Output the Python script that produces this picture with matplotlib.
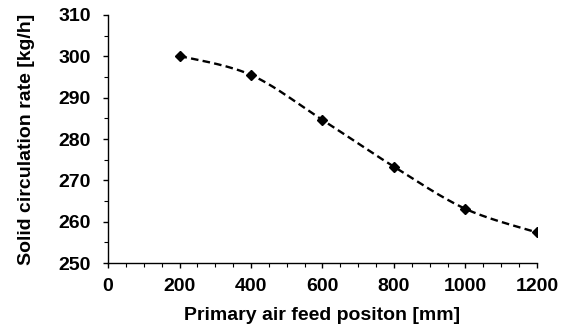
import numpy as np
import matplotlib
matplotlib.use("Agg")
import matplotlib.pyplot as plt
from matplotlib.ticker import MultipleLocator

# Data
feed_position = [200, 400, 600, 800, 1000, 1200]
circulation_rate = [300.1, 295.5, 284.6, 273.3, 263.1, 257.4]


def smooth_line(x, y, n=30):
    # Excel-like smoothed line (Catmull-Rom Bezier segments)
    x = np.asarray(x, float)
    y = np.asarray(y, float)
    px, py = [], []
    for i in range(len(x) - 1):
        x0, y0 = (x[i - 1], y[i - 1]) if i > 0 else (x[i], y[i])
        x3, y3 = (x[i + 2], y[i + 2]) if i + 2 < len(x) else (x[i + 1], y[i + 1])
        c1x = x[i] + (x[i + 1] - x0) / 6
        c1y = y[i] + (y[i + 1] - y0) / 6
        c2x = x[i + 1] - (x3 - x[i]) / 6
        c2y = y[i + 1] - (y3 - y[i]) / 6
        t = np.linspace(0, 1, n)
        px.append((1 - t) ** 3 * x[i] + 3 * (1 - t) ** 2 * t * c1x + 3 * (1 - t) * t ** 2 * c2x + t ** 3 * x[i + 1])
        py.append((1 - t) ** 3 * y[i] + 3 * (1 - t) ** 2 * t * c1y + 3 * (1 - t) * t ** 2 * c2y + t ** 3 * y[i + 1])
    return np.concatenate(px), np.concatenate(py)


plt.rcParams['font.family'] = ['Liberation Sans', 'DejaVu Sans']
plt.rcParams['font.weight'] = 'bold'

fig = plt.figure(figsize=(5.7, 3.31), dpi=100)
ax = fig.add_axes([0.1895, 0.2054, 0.7525, 0.7493])

sx, sy = smooth_line(feed_position, circulation_rate)
ax.plot(sx, sy, color='black', lw=1.7, ls=(0, (3.2, 1.8)))
ax.plot(feed_position, circulation_rate, ls='none', marker='D', ms=5.5, color='black')

ax.set_xlim(0, 1200)
ax.set_ylim(250, 310)
ax.xaxis.set_major_locator(MultipleLocator(200))
ax.xaxis.set_minor_locator(MultipleLocator(50))
ax.yaxis.set_major_locator(MultipleLocator(10))
ax.yaxis.set_minor_locator(MultipleLocator(5))
ax.tick_params(which='major', direction='out', length=3.6, width=1, labelsize=14)
ax.tick_params(axis='x', which='major', pad=7.5)
ax.tick_params(axis='y', which='major', pad=8.6)
ax.tick_params(which='minor', direction='out', length=3, width=0.8)

for side in ['top', 'right']:
    ax.spines[side].set_visible(False)
for side in ['left', 'bottom']:
    ax.spines[side].set_linewidth(1)

ax.set_xlabel('Primary air feed positon [mm]', fontsize=14, fontweight='bold', labelpad=8)
ax.set_ylabel('Solid circulation rate [kg/h]', fontsize=14, fontweight='bold', labelpad=17)

fig.savefig('out.png', dpi=100)
